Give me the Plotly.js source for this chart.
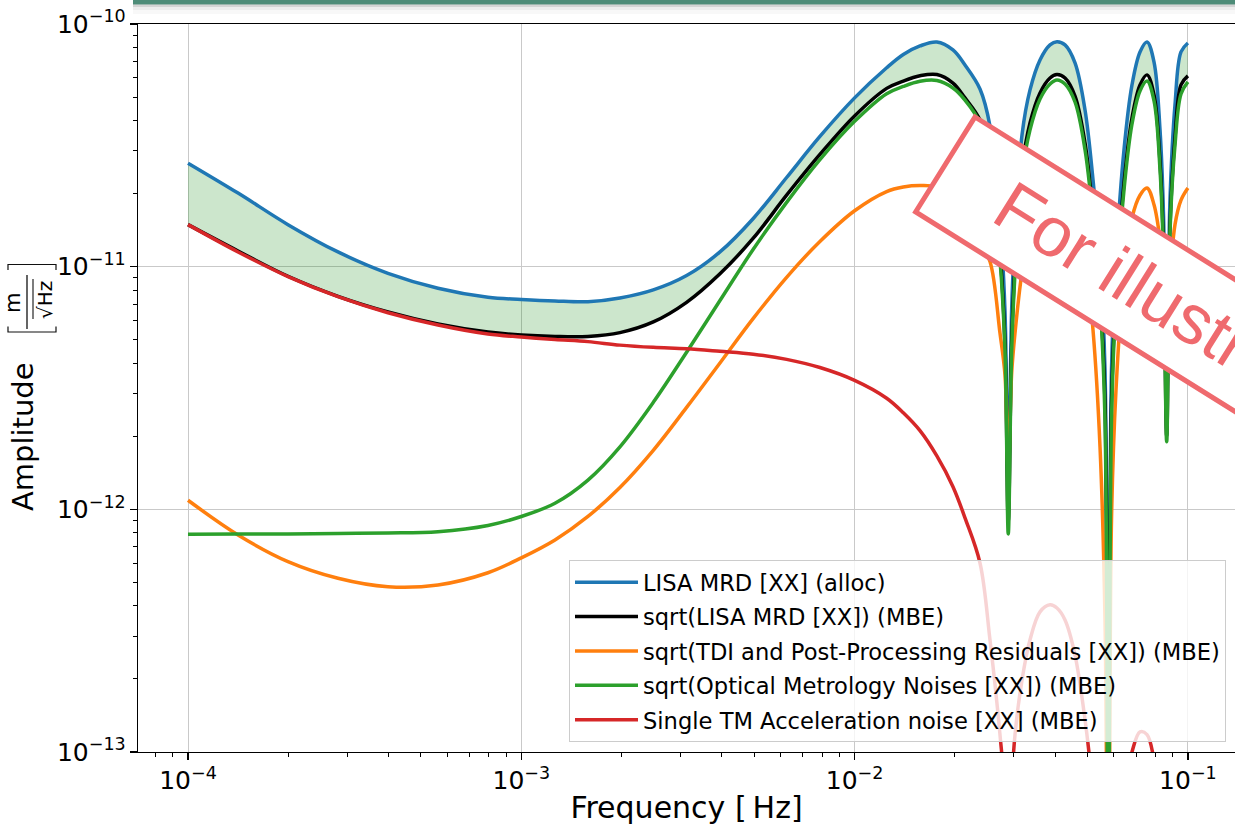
<!DOCTYPE html>
<html>
<head>
<meta charset="utf-8">
<script src="https://cdn.plot.ly/plotly-3.0.1.min.js"></script>
<style>
html,body{margin:0;padding:0;background:#ffffff;}
#chart{width:1235px;height:825px;}
</style>
</head>
<body>
<div id="chart"></div>
<script>
// ---------------- data ----------------
const freq = [1.000e-4, 1.413e-4, 1.995e-4, 2.818e-4, 3.981e-4, 5.623e-4, 7.943e-4, 1.000e-3,
  1.262e-3, 1.585e-3, 1.977e-3, 2.489e-3, 3.133e-3, 3.945e-3, 4.966e-3, 6.252e-3, 7.870e-3, 1.000e-2,
  1.248e-2, 1.400e-2, 1.571e-2, 1.765e-2, 1.973e-2, 2.144e-2, 2.378e-2, 2.548e-2, 2.730e-2, 2.826e-2,
  2.891e-2, 2.960e-2, 3.029e-2, 3.179e-2, 3.360e-2, 3.600e-2, 3.858e-2, 4.047e-2, 4.279e-2, 4.585e-2,
  4.913e-2, 5.192e-2, 5.449e-2, 5.640e-2, 5.770e-2, 5.899e-2, 6.085e-2, 6.431e-2, 6.796e-2, 7.183e-2,
  7.540e-2, 7.914e-2, 8.249e-2, 8.451e-2, 8.637e-2, 8.836e-2, 9.147e-2, 9.535e-2, 1.000e-1];

// LISA MRD [XX] (alloc)
const allocMRD = [2.67e-11, 2.01e-11, 1.49e-11, 1.15e-11, 9.39e-12, 8.15e-12, 7.48e-12, 7.33e-12,
  7.22e-12, 7.17e-12, 7.43e-12, 8.02e-12, 9.19e-12, 1.15e-11, 1.58e-11, 2.33e-11, 3.44e-11, 4.96e-11,
  6.60e-11, 7.49e-11, 8.12e-11, 8.43e-11, 7.82e-11, 6.78e-11, 5.40e-11, 3.80e-11, 1.57e-11, 6.57e-12,
  1.23e-12, 6.69e-12, 1.39e-11, 3.49e-11, 5.35e-11, 7.11e-11, 8.20e-11, 8.45e-11, 8.20e-11, 6.91e-11,
  4.42e-11, 2.28e-11, 1.07e-11, 3.75e-12, 2.0e-14, 3.75e-12, 1.07e-11, 3.03e-11, 5.61e-11, 7.67e-11,
  8.43e-11, 6.97e-11, 3.66e-11, 1.63e-11, 2.75e-12, 1.88e-11, 4.64e-11, 7.67e-11, 8.35e-11];

// sqrt(LISA MRD [XX]) (MBE)
const mbeMRD = [1.49e-11, 1.16e-11, 9.13e-12, 7.55e-12, 6.51e-12, 5.81e-12, 5.38e-12, 5.23e-12,
  5.16e-12, 5.16e-12, 5.35e-12, 5.92e-12, 7.13e-12, 9.35e-12, 1.31e-11, 1.97e-11, 2.90e-11, 4.18e-11,
  5.43e-11, 5.82e-11, 6.12e-11, 6.19e-11, 5.71e-11, 4.96e-11, 4.02e-11, 2.78e-11, 1.15e-11, 4.80e-12,
  8.96e-13, 4.89e-12, 1.02e-11, 2.55e-11, 3.91e-11, 5.20e-11, 5.99e-11, 6.19e-11, 5.99e-11, 5.05e-11,
  3.23e-11, 1.66e-11, 7.79e-12, 2.75e-12, 1.5e-14, 2.75e-12, 7.79e-12, 2.21e-11, 4.10e-11, 5.61e-11,
  6.17e-11, 5.10e-11, 2.68e-11, 1.19e-11, 2.01e-12, 1.45e-11, 3.39e-11, 5.61e-11, 6.11e-11];

// sqrt(TDI and Post-Processing Residuals [XX]) (MBE)
const tdiResiduals = [1.09e-12, 7.84e-13, 6.09e-13, 5.20e-13, 4.80e-13, 4.88e-13, 5.48e-13, 6.31e-13,
  7.48e-13, 9.35e-13, 1.23e-12, 1.75e-12, 2.63e-12, 4.01e-12, 6.12e-12, 9.04e-12, 1.27e-11, 1.70e-11,
  2.04e-11, 2.13e-11, 2.16e-11, 2.13e-11, 1.92e-11, 1.63e-11, 1.25e-11, 1.05e-11, 5.33e-12, 3.58e-12,
  1.45e-12, 3.65e-12, 5.33e-12, 9.51e-12, 1.44e-11, 1.80e-11, 2.03e-11, 2.11e-11, 2.03e-11, 1.75e-11,
  1.12e-11, 5.48e-12, 1.81e-12, 3.50e-13, 8.0e-15, 9.04e-13, 3.10e-12, 9.24e-12, 1.59e-11, 1.97e-11,
  2.11e-11, 1.80e-11, 1.29e-11, 8.82e-12, 4.99e-12, 8.82e-12, 1.49e-11, 1.88e-11, 2.11e-11];

// sqrt(Optical Metrology Noises [XX]) (MBE)
const opticalMetrology = [7.90e-13, 7.91e-13, 7.92e-13, 7.96e-13, 7.99e-13, 8.09e-13, 8.58e-13, 9.34e-13,
  1.06e-12, 1.32e-12, 1.81e-12, 2.76e-12, 4.44e-12, 7.25e-12, 1.18e-11, 1.84e-11, 2.76e-11, 3.97e-11,
  5.16e-11, 5.53e-11, 5.81e-11, 5.85e-11, 5.45e-11, 4.86e-11, 3.91e-11, 2.62e-11, 1.07e-11, 4.54e-12,
  7.92e-13, 4.54e-12, 9.42e-12, 2.39e-11, 3.66e-11, 4.91e-11, 5.66e-11, 5.88e-11, 5.66e-11, 4.77e-11,
  3.03e-11, 1.56e-11, 7.29e-12, 2.34e-12, 1.0e-14, 2.34e-12, 7.29e-12, 2.07e-11, 3.87e-11, 5.30e-11,
  5.82e-11, 4.82e-11, 2.50e-11, 1.09e-11, 1.90e-12, 1.39e-11, 3.17e-11, 5.15e-11, 5.77e-11];

// Single TM Acceleration noise [XX] (MBE)
const tmAcceleration = [1.49e-11, 1.15e-11, 9.10e-12, 7.52e-12, 6.46e-12, 5.75e-12, 5.28e-12, 5.13e-12,
  5.01e-12, 4.91e-12, 4.75e-12, 4.65e-12, 4.59e-12, 4.48e-12, 4.36e-12, 4.15e-12, 3.84e-12, 3.40e-12,
  2.87e-12, 2.50e-12, 2.11e-12, 1.66e-12, 1.24e-12, 9.22e-13, 6.01e-13, 2.90e-13, 1.18e-13, 6.35e-14,
  1.0e-15, 6.98e-14, 1.18e-13, 1.98e-13, 2.90e-13, 3.78e-13, 4.04e-13, 3.92e-13, 3.50e-13, 2.51e-13,
  1.36e-13, 6.98e-14, 3.59e-14, 1.53e-14, 1.0e-15, 1.85e-14, 3.59e-14, 6.98e-14, 1.00e-13, 1.21e-13,
  1.18e-13, 9.28e-14, 6.35e-14, 3.95e-14, 1.0e-15, 3.95e-14, 5.77e-14, 6.98e-14, 7.67e-14];

const seriesNames = [
  "LISA MRD [XX] (alloc)",
  "sqrt(LISA MRD [XX]) (MBE)",
  "sqrt(TDI and Post-Processing Residuals [XX]) (MBE)",
  "sqrt(Optical Metrology Noises [XX]) (MBE)",
  "Single TM Acceleration noise [XX] (MBE)"
];
const xTitle = "Frequency [\u2009Hz]";
const yTitle = "Amplitude";
const watermarkText = "For illustration only";

// ---------------- layout geometry ----------------
const W = 1235, H = 825, ML = 138, MR = 0, MT = 24, MB = 73;
const PW = W - ML - MR, PH = H - MT - MB;
const px = x => (x - ML) / PW;          // pixel x -> paper x
const py = y => (H - MB - y) / PH;      // pixel y -> paper y
const FONT = "DejaVu Sans, Verdana, sans-serif";
const colors = ["#1f77b4", "#000000", "#ff7f0e", "#2ca02c", "#d62728"];
const seriesValues = [allocMRD, mbeMRD, tdiResiduals, opticalMetrology, tmAcceleration];

const traces = [
  {x: freq, y: mbeMRD, mode: "lines", line: {width: 0, color: "rgba(0,0,0,0)", shape: "spline", smoothing: 1},
   showlegend: false, hoverinfo: "skip"},
  {x: freq, y: allocMRD, mode: "lines", line: {width: 0, color: "rgba(0,0,0,0)", shape: "spline", smoothing: 1},
   fill: "tonexty", fillcolor: "rgba(0,128,0,0.2)", showlegend: false, hoverinfo: "skip"}
];
seriesValues.forEach((vals, i) => {
  traces.push({x: freq, y: vals, mode: "lines", name: seriesNames[i], legendgroup: "g" + i,
    line: {color: colors[i], width: 3.5, shape: "spline", smoothing: 1}});
});

// watermark box (rotated rectangle)
const ang = 32 * Math.PI / 180, c = Math.cos(ang), s = Math.sin(ang);
const boxH = 112, boxL = 700;
const TL = [975, 117];
const BL = [TL[0] - boxH * s, TL[1] + boxH * c];
const TR = [TL[0] + boxL * c, TL[1] + boxL * s];
const BR = [BL[0] + boxL * c, BL[1] + boxL * s];
const P = p => px(p[0]).toFixed(5) + "," + py(p[1]).toFixed(5);
const wmPath = "M" + P(TL) + " L" + P(TR) + " L" + P(BR) + " L" + P(BL) + " Z";
const mid = [TL[0] - boxH / 2 * s, TL[1] + boxH / 2 * c];
const along = 360;
const wmCenter = [mid[0] + along * c, mid[1] + along * s];
const wmColor = "#ef6a6e";

const line = (x0, y0, x1, y1, w, col) => ({type: "line", xref: "paper", yref: "paper",
  x0: px(x0), y0: py(y0), x1: px(x1), y1: py(y1), line: {color: col || "#111", width: w || 1.2}});
const pathShape = (pts, w) => ({type: "path", xref: "paper", yref: "paper",
  path: "M" + pts.map(p => P(p)).join(" L"), line: {color: "#111", width: w || 1.2}});

const shapes = [
  // top banner
  {type: "rect", xref: "paper", yref: "paper", x0: px(133), x1: px(1236), y0: py(0), y1: py(4.5),
   fillcolor: "#4e8c78", line: {width: 0}, layer: "above"},
  {type: "rect", xref: "paper", yref: "paper", x0: px(133), x1: px(1236), y0: py(4.5), y1: py(7),
   fillcolor: "rgba(60,60,60,0.22)", line: {width: 0}, layer: "above"},
  {type: "rect", xref: "paper", yref: "paper", x0: px(133), x1: px(1236), y0: py(7), y1: py(10),
   fillcolor: "rgba(60,60,60,0.09)", line: {width: 0}, layer: "above"},
  {type: "rect", xref: "paper", yref: "paper", x0: px(133), x1: px(1236), y0: py(10), y1: py(14),
   fillcolor: "rgba(60,60,60,0.035)", line: {width: 0}, layer: "above"},
  // watermark
  {type: "path", xref: "paper", yref: "paper", path: wmPath, fillcolor: "#ffffff",
   line: {color: wmColor, width: 5}, layer: "above"},
  // unit fraction of the y label: brackets, fraction bar, radical bar
  pathShape([[8, 270], [8, 264.5], [56, 264.5], [56, 270]]),
  pathShape([[8, 326.5], [8, 332], [56, 332], [56, 326.5]]),
  line(27, 275, 27, 329, 1.3),
  line(33, 319, 33, 279, 1.1)
];

const annotations = [
  {text: watermarkText, xref: "paper", yref: "paper", x: px(wmCenter[0]), y: py(wmCenter[1]),
   xanchor: "center", yanchor: "middle", showarrow: false, textangle: 32,
   font: {family: "Liberation Sans, Arial, sans-serif", size: 70, color: wmColor}},
  {text: yTitle, xref: "paper", yref: "paper", x: px(23), y: py(437), xanchor: "center", yanchor: "middle",
   showarrow: false, textangle: -90, font: {family: FONT, size: 29, color: "#000"}},
  {text: "m", xref: "paper", yref: "paper", x: px(13), y: py(303), xanchor: "center", yanchor: "middle",
   showarrow: false, textangle: -90, font: {family: FONT, size: 21, color: "#000"}},
  {text: "\u221AHz", xref: "paper", yref: "paper", x: px(45), y: py(300), xanchor: "center", yanchor: "middle",
   showarrow: false, textangle: -90, font: {family: FONT, size: 20, color: "#000"}}
];

const axisCommon = {
  type: "log", dtick: 1, exponentformat: "power", showexponent: "all",
  ticks: "outside", ticklen: 7, tickwidth: 1.3, tickcolor: "#000",
  showline: true, linecolor: "#000", linewidth: 1.3,
  showgrid: true, gridcolor: "#c9c9c9", gridwidth: 1, zeroline: false,
  tickfont: {family: FONT, size: 20, color: "#000"},
  minor: {ticks: "outside", ticklen: 4, tickwidth: 1, tickcolor: "#000", dtick: "D1", showgrid: false}
};

const layout = {
  width: W, height: H,
  margin: {l: ML, r: MR, t: MT, b: MB, pad: 0},
  paper_bgcolor: "#ffffff", plot_bgcolor: "#ffffff",
  showlegend: true,
  xaxis: Object.assign({}, axisCommon, {
    range: [-4.15, -4.15 + PW / 333.3], mirror: true,
    title: {text: xTitle, font: {family: FONT, size: 30, color: "#000"}, standoff: 6}
  }),
  yaxis: Object.assign({}, axisCommon, {
    range: [-13, -10], mirror: false
  }),
  legend: {
    x: px(1226), xanchor: "right", y: py(742), yanchor: "bottom",
    bgcolor: "rgba(255,255,255,0.8)", bordercolor: "#cccccc", borderwidth: 1,
    font: {family: FONT, size: 22.6, color: "#000"},
    traceorder: "grouped", tracegroupgap: 2, itemwidth: 63
  },
  shapes: shapes,
  annotations: annotations
};

Plotly.newPlot("chart", traces, layout, {displayModeBar: false, staticPlot: true});
</script>
</body>
</html>
